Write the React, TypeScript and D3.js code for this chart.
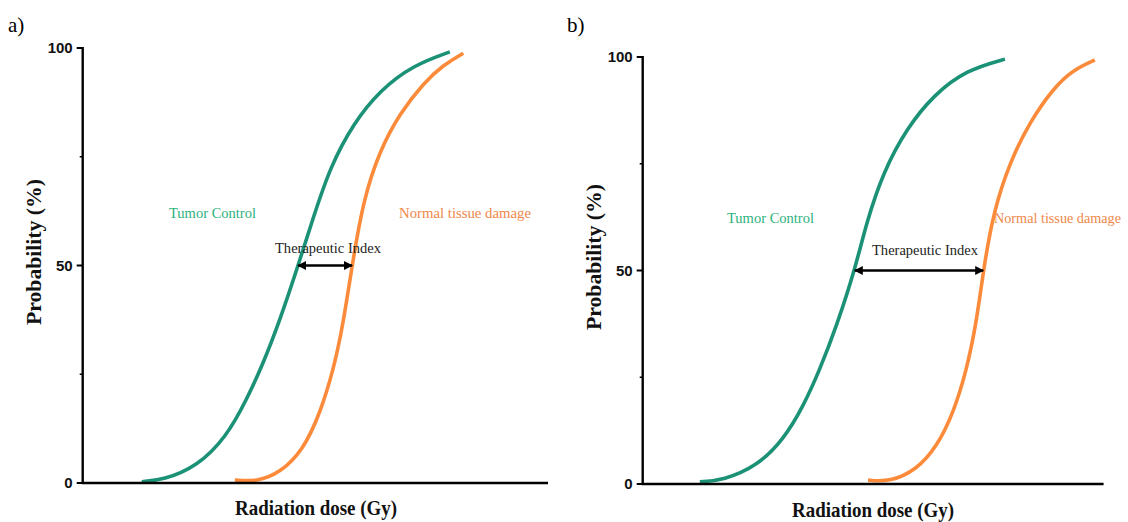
import React, { useEffect, useRef } from "react";
import * as d3 from "d3";

// y axis ticks
const majorTicks = [0, 50, 100];
const minorTicks = [25, 75];

// panel a) curves, dose in arbitrary units (0-100 along the x axis)
const aTumorDose = [12.7, 17.3, 24.5, 30.9, 35.2, 38.8, 42.4, 46.3, 49.6, 53.2, 58.2, 63.9, 71.1, 78.9];
const aTumorProb = [0.3, 0.7, 3.7, 10.6, 19.1, 27.5, 37.5, 50, 61.2, 72.7, 82.7, 90.3, 96.1, 99.1];
const aNormalDose = [32.7, 37.4, 42.4, 47.4, 51.0, 53.9, 56.0, 57.9, 60.3, 63.9, 68.2, 73.2, 77.5, 81.8];
const aNormalProb = [0.7, 0.3, 2.3, 7.6, 16.0, 26.0, 36.7, 50, 65.1, 76.6, 85.0, 91.9, 96.1, 98.8];

// panel b) curves
const bTumorDose = [12.4, 17.5, 24.7, 30.5, 34.8, 38.4, 42.0, 46.0, 48.6, 52.2, 57.3, 63.1, 70.3, 78.6];
const bTumorProb = [0.5, 0.9, 4.1, 10.3, 18.1, 26.7, 36.8, 50, 61.4, 73.1, 83.3, 91.1, 97.0, 99.5];
const bNormalDose = [48.9, 53.7, 59.4, 63.8, 67.4, 70.3, 72.5, 73.9, 76.1, 79.7, 84.0, 89.1, 93.4, 98.1];
const bNormalProb = [0.9, 0.5, 3.3, 8.7, 16.6, 26.7, 38.4, 50, 63.8, 75.5, 84.8, 92.7, 97.0, 99.3];

// therapeutic index: dose at 50% for each curve
const aIndex = [46.3, 57.9];
const bIndex = [46.0, 73.9];

const GREEN = "#1b9176";
const ORANGE = "#fb8b3b";
const GREEN_TEXT = "#2bb27c";
const ORANGE_TEXT = "#ef884a";
const SERIF = "'Liberation Serif', 'Times New Roman', serif";
const SANS = "'Liberation Sans', Arial, sans-serif";

const panels = [
  {
    id: "a",
    label: "a)",
    labelX: 8,
    x0: 82.7, x1: 548, yTop: 48, yBottom: 483,
    tumor: [aTumorDose, aTumorProb],
    normal: [aNormalDose, aNormalProb],
    index: aIndex,
    tumorText: [169, 218],
    normalText: [399, 218, 132],
    indexText: [275, 253],
    yTitleX: 41, yTitleY: 252,
    xTitleX: 316, xTitleY: 515,
  },
  {
    id: "b",
    label: "b)",
    labelX: 567,
    x0: 642.7, x1: 1103.6, yTop: 57, yBottom: 484,
    tumor: [bTumorDose, bTumorProb],
    normal: [bNormalDose, bNormalProb],
    index: bIndex,
    tumorText: [727, 223],
    normalText: [994, 223, 127],
    indexText: [872, 255],
    yTitleX: 601, yTitleY: 257,
    xTitleX: 873, xTitleY: 517,
  },
];

const App = () => {
  const ref = useRef<SVGSVGElement>(null);

  useEffect(() => {
    const svg = d3.select(ref.current);
    svg.selectAll("*").remove();

    panels.forEach((p) => {
      const x = d3.scaleLinear().domain([0, 100]).range([p.x0, p.x1]);
      const y = d3.scaleLinear().domain([0, 100]).range([p.yBottom, p.yTop]);
      const g = svg.append("g");

      // panel letter
      g.append("text")
        .attr("x", p.labelX)
        .attr("y", 32)
        .attr("font-family", SERIF)
        .attr("font-size", 21)
        .text(p.label);

      // arrow marker
      const defs = g.append("defs");
      defs
        .append("marker")
        .attr("id", `arrow-${p.id}`)
        .attr("viewBox", "0 0 10 10")
        .attr("refX", 9)
        .attr("refY", 5)
        .attr("markerWidth", 9)
        .attr("markerHeight", 9)
        .attr("markerUnits", "userSpaceOnUse")
        .attr("orient", "auto-start-reverse")
        .append("path")
        .attr("d", "M0,0 L10,5 L0,10 z")
        .attr("fill", "#000");

      // curves
      const line = d3
        .line<[number, number]>()
        .x((d) => x(d[0]))
        .y((d) => y(d[1]))
        .curve(d3.curveBasis);

      const series = [
        { data: p.tumor, color: GREEN },
        { data: p.normal, color: ORANGE },
      ];
      series.forEach((s) => {
        const pts = s.data[0].map((d, i) => [d, s.data[1][i]] as [number, number]);
        g.append("path")
          .attr("d", line(pts))
          .attr("fill", "none")
          .attr("stroke", s.color)
          .attr("stroke-width", 3.6)
          .attr("stroke-linecap", "butt");
      });

      // axes
      g.append("line")
        .attr("x1", p.x0)
        .attr("x2", p.x0)
        .attr("y1", p.yTop - 1)
        .attr("y2", p.yBottom)
        .attr("stroke", "#000")
        .attr("stroke-width", 2.4);
      g.append("line")
        .attr("x1", p.x0 - 1)
        .attr("x2", p.x1)
        .attr("y1", p.yBottom)
        .attr("y2", p.yBottom)
        .attr("stroke", "#000")
        .attr("stroke-width", 2.4);

      g.selectAll(".major")
        .data(majorTicks)
        .enter()
        .append("line")
        .attr("x1", p.x0 - 6)
        .attr("x2", p.x0)
        .attr("y1", (d) => y(d))
        .attr("y2", (d) => y(d))
        .attr("stroke", "#000")
        .attr("stroke-width", 2);

      g.selectAll(".minor")
        .data(minorTicks)
        .enter()
        .append("line")
        .attr("x1", p.x0 - 3)
        .attr("x2", p.x0)
        .attr("y1", (d) => y(d))
        .attr("y2", (d) => y(d))
        .attr("stroke", "#000")
        .attr("stroke-width", 1.5);

      g.selectAll(".ticklabel")
        .data(majorTicks)
        .enter()
        .append("text")
        .attr("x", p.x0 - 10)
        .attr("y", (d) => y(d))
        .attr("dy", "0.36em")
        .attr("text-anchor", "end")
        .attr("font-family", SANS)
        .attr("font-weight", "bold")
        .attr("font-size", 15)
        .attr("fill", "#111")
        .text((d) => d);

      // therapeutic index arrow
      g.append("line")
        .attr("x1", x(p.index[0]))
        .attr("x2", x(p.index[1]))
        .attr("y1", y(50))
        .attr("y2", y(50))
        .attr("stroke", "#000")
        .attr("stroke-width", 2.4)
        .attr("marker-start", `url(#arrow-${p.id})`)
        .attr("marker-end", `url(#arrow-${p.id})`);

      g.append("text")
        .attr("x", p.indexText[0])
        .attr("y", p.indexText[1])
        .attr("font-family", SERIF)
        .attr("font-size", 15)
        .attr("fill", "#222")
        .attr("textLength", 106)
        .attr("lengthAdjust", "spacingAndGlyphs")
        .text("Therapeutic Index");

      // curve labels
      g.append("text")
        .attr("x", p.tumorText[0])
        .attr("y", p.tumorText[1])
        .attr("font-family", SERIF)
        .attr("font-size", 15)
        .attr("fill", GREEN_TEXT)
        .attr("textLength", 87)
        .attr("lengthAdjust", "spacingAndGlyphs")
        .text("Tumor Control");

      g.append("text")
        .attr("x", p.normalText[0])
        .attr("y", p.normalText[1])
        .attr("font-family", SERIF)
        .attr("font-size", 15)
        .attr("fill", ORANGE_TEXT)
        .attr("textLength", p.normalText[2])
        .attr("lengthAdjust", "spacingAndGlyphs")
        .text("Normal tissue damage");

      // axis titles
      g.append("text")
        .attr("transform", `translate(${p.yTitleX}, ${p.yTitleY}) rotate(-90)`)
        .attr("text-anchor", "middle")
        .attr("font-family", SERIF)
        .attr("font-weight", "bold")
        .attr("font-size", 21)
        .attr("fill", "#111")
        .attr("textLength", 146)
        .attr("lengthAdjust", "spacingAndGlyphs")
        .text("Probability (%)");

      g.append("text")
        .attr("x", p.xTitleX)
        .attr("y", p.xTitleY)
        .attr("text-anchor", "middle")
        .attr("font-family", SERIF)
        .attr("font-weight", "bold")
        .attr("font-size", 21)
        .attr("fill", "#111")
        .attr("textLength", 162)
        .attr("lengthAdjust", "spacingAndGlyphs")
        .text("Radiation dose (Gy)");
    });
  }, []);

  return (
    <svg
      ref={ref}
      width={1128}
      height={522}
      style={{ position: "absolute", left: 0, top: 0, background: "#fff" }}
    />
  );
};

export default App;
